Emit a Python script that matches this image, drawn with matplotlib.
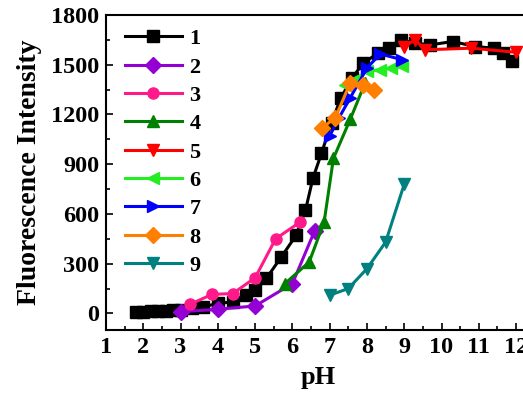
import matplotlib
matplotlib.use('Agg')

import matplotlib.pyplot as plt
from matplotlib.ticker import MultipleLocator

# pH titration curves for nine samples
ph_1 = [1.8, 2.0, 2.2, 2.4, 2.6, 2.8, 3.0, 3.3, 3.6, 4.0, 4.4, 4.75, 5.0, 5.3, 5.7,
        6.1, 6.35, 6.55, 6.78, 7.05, 7.3, 7.6, 7.9, 8.3, 8.6, 8.9, 9.3, 9.7, 10.3,
        10.9, 11.4, 11.65, 11.9]
fl_1 = [10, 10, 12, 14, 15, 18, 20, 30, 40, 60, 70, 110, 140, 211, 340,
        471, 622, 815, 966, 1150, 1300, 1420, 1510, 1570, 1600, 1650, 1630, 1620, 1640,
        1610, 1600, 1570, 1520]

ph_2 = [3.0, 4.0, 5.0, 6.0, 6.6]
fl_2 = [10, 25, 45, 180, 500]

ph_3 = [3.25, 3.85, 4.4, 5.0, 5.55, 6.2]
fl_3 = [55, 115, 120, 215, 450, 550]

ph_4 = [5.8, 6.45, 6.85, 7.1, 7.55, 7.95]
fl_4 = [180, 310, 550, 935, 1170, 1390]

ph_5 = [9.0, 9.3, 9.55, 10.8, 12.0]
fl_5 = [1610, 1650, 1590, 1600, 1575]

ph_6 = [7.4, 7.6, 8.0, 8.35, 8.65, 8.95]
fl_6 = [1380, 1400, 1460, 1470, 1480, 1490]

ph_7 = [7.0, 7.25, 7.55, 8.0, 8.35, 8.95]
fl_7 = [1070, 1180, 1300, 1480, 1565, 1530]

ph_8 = [6.8, 7.15, 7.55, 7.9, 8.2]
fl_8 = [1120, 1180, 1390, 1380, 1350]

ph_9 = [7.0, 7.5, 8.0, 8.5, 9.0]
fl_9 = [110, 150, 270, 430, 780]

labels = ["1", "2", "3", "4", "5", "6", "7", "8", "9"]

series = [
    (ph_1, fl_1, "#000000", "s"),
    (ph_2, fl_2, "#9400D3", "D"),
    (ph_3, fl_3, "#FF1A8C", "o"),
    (ph_4, fl_4, "#008000", "^"),
    (ph_5, fl_5, "#FF0000", "v"),
    (ph_6, fl_6, "#22EE22", "<"),
    (ph_7, fl_7, "#0000FF", ">"),
    (ph_8, fl_8, "#FF8000", "D"),
    (ph_9, fl_9, "#008080", "v"),
]

plt.rcParams['font.family'] = ['Liberation Serif', 'DejaVu Serif']
plt.rcParams['font.weight'] = 'bold'

fig = plt.figure(figsize=(5.23, 3.95), dpi=100)
ax = fig.add_axes([106 / 523, 1 - 330 / 395, 425 / 523, 315 / 395])

for (x, y, color, marker), label in zip(series, labels):
    ax.plot(x, y, color=color, marker=marker, markersize=8, linewidth=2.2,
            label=label)

ax.set_xlim(1, 12.4)
ax.set_ylim(-100, 1800)
ax.xaxis.set_major_locator(MultipleLocator(1))
ax.xaxis.set_minor_locator(MultipleLocator(0.5))
ax.yaxis.set_major_locator(MultipleLocator(300))
ax.yaxis.set_minor_locator(MultipleLocator(150))
ax.tick_params(which='both', direction='in', labelsize=17.5, width=1.2)
ax.tick_params(which='major', length=5, pad=5)
ax.tick_params(which='minor', length=3)
for spine in ax.spines.values():
    spine.set_linewidth(1.5)

ax.set_xlabel("pH", fontsize=19, fontweight='bold', labelpad=6)
ax.set_ylabel("Fluorescence Intensity", fontsize=20, fontweight='bold', labelpad=6)

ax.legend(loc='upper left', bbox_to_anchor=(0.024, 0.985), borderaxespad=0,
          frameon=False, numpoints=1, handlelength=2.55, handletextpad=0.35,
          labelspacing=0.35, prop={'weight': 'bold', 'size': 16})

plt.savefig("out.png", dpi=100)
plt.close()
